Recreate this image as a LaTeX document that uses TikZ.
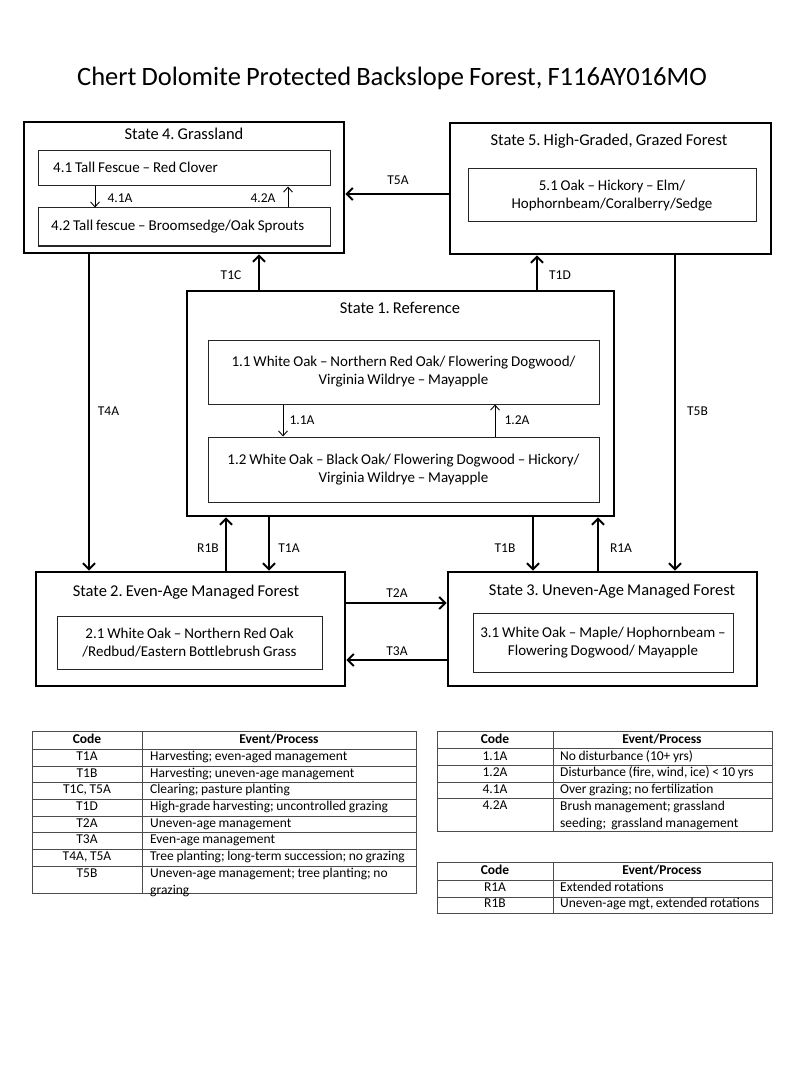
\documentclass[tikz,border=0pt]{standalone}
\usepackage{fontspec}
\setmainfont{Carlito}[WordSpace=0.85]
\usetikzlibrary{arrows.meta}
\begin{document}
\frenchspacing
\begin{tikzpicture}[x=1pt,y=-1pt,
  statebox/.style={draw, line width=2.8pt, inner sep=0pt},
  phasebox/.style={draw, black!85, line width=1pt, inner sep=0pt, text=black, align=center,
    font=\fontsize{15}{18}\selectfont},
  ptext/.style={inner sep=0pt, anchor=west, font=\fontsize{15}{18}\selectfont},
  stitle/.style={inner sep=0pt, font=\fontsize{16.5}{19}\selectfont},
  lbl/.style={inner sep=0pt, font=\fontsize{13.5}{16}\selectfont},
  conn/.style={line width=2.2pt, -{Straight Barb[length=6pt, width=12pt, line width=2pt]}},
  thinconn/.style={line width=0.9pt, -{Straight Barb[length=5pt, width=9pt, line width=0.9pt]}},
  tline/.style={draw, black!70, line width=0.9pt},
  tcell/.style={inner sep=0pt, text height=9.5pt, text depth=3pt, font=\fontsize{13.5}{17}\selectfont},
  tmulti/.style={inner sep=0pt, align=left, font=\fontsize{13.5}{17}\selectfont},
  thead/.style={inner sep=0pt, text height=9.5pt, text depth=3pt, font=\fontsize{13.5}{17}\selectfont\bfseries},
]
\useasboundingbox (0,0) rectangle (800,1067);
\fill[white] (0,0) rectangle (800,1067);

% title
\node[inner sep=0pt, font=\fontsize{26.5}{30}\selectfont] (title) at (392,78) {Chert Dolomite Protected Backslope Forest, F116AY016MO};

% states
\node[statebox, minimum width=320, minimum height=131] (s4) at (184,187.5) {};
\node[statebox, minimum width=321, minimum height=131] (s5) at (610.5,188.5) {};
\node[statebox, minimum width=427, minimum height=225] (s1) at (400.5,403.5) {};
\node[statebox, minimum width=309, minimum height=114] (s2) at (190.5,629) {};
\node[statebox, minimum width=309, minimum height=114] (s3) at (602.5,629) {};

\node[stitle] (s4t) at (184,134) {State 4. Grassland};
\node[stitle] (s5t) at (609,141) {State 5. High-Graded, Grazed Forest};
\node[stitle] (s1t) at (400,308) {State 1. Reference};
\node[stitle] (s2t) at (186,592) {State 2. Even-Age Managed Forest};
\node[stitle] (s3t) at (612,591) {State 3. Uneven-Age Managed Forest};

% phases
\node[phasebox, minimum width=292, minimum height=35] (p41) at (184,168.5) {};
\node[ptext] (p41t) at (53,167.5) {4.1 Tall Fescue – Red Clover};
\node[phasebox, minimum width=292, minimum height=38] (p42) at (184,227) {};
\node[ptext] (p42t) at (51,227) {4.2 Tall fescue – Broomsedge/Oak Sprouts};
\node[phasebox, minimum width=288, minimum height=53] (p51) at (612,195.5) {5.1 Oak – Hickory – Elm/\\Hophornbeam/Coralberry/Sedge};
\node[phasebox, minimum width=391, minimum height=64] (p11) at (403.5,372) {1.1 White Oak – Northern Red Oak/ Flowering Dogwood/\\Virginia Wildrye – Mayapple};
\node[phasebox, minimum width=391, minimum height=65] (p12) at (403.5,469.5) {1.2 White Oak – Black Oak/ Flowering Dogwood – Hickory/\\Virginia Wildrye – Mayapple};
\node[phasebox, minimum width=265, minimum height=53] (p21) at (189.5,642.5) {2.1 White Oak – Northern Red Oak\\/Redbud/Eastern Bottlebrush Grass};
\node[phasebox, minimum width=260, minimum height=59] (p31) at (603,642.5) {3.1 White Oak – Maple/ Hophornbeam –\\Flowering Dogwood/ Mayapple};

% transitions between states
\draw[conn] (s5.west |- 0,194) -- (s4.east |- 0,194);
\draw[conn] (s1.north -| 259,0) -- (s4.south -| 259,0);
\draw[conn] (s1.north -| 537,0) -- (s5.south -| 537,0);
\draw[conn] (s4.south -| 89,0) -- (s2.north -| 89,0);
\draw[conn] (s5.south -| 675,0) -- (s3.north -| 675,0);
\draw[conn] (s2.north -| 226,0) -- (s1.south -| 226,0);
\draw[conn] (s1.south -| 269,0) -- (s2.north -| 269,0);
\draw[conn] (s1.south -| 533,0) -- (s3.north -| 533,0);
\draw[conn] (s3.north -| 598,0) -- (s1.south -| 598,0);
\draw[conn] (s2.east |- 0,603) -- (s3.west |- 0,603);
\draw[conn] (s3.west |- 0,660) -- (s2.east |- 0,660);

\node[lbl] (lt5a) at (398,180) {T5A};
\node[lbl] (lt1c) at (231,275) {T1C};
\node[lbl] (lt1d) at (560,275) {T1D};
\node[lbl] (lt4a) at (108.5,411) {T4A};
\node[lbl] (lt5b) at (697.5,411) {T5B};
\node[lbl] (lr1b) at (208,548) {R1B};
\node[lbl] (lt1a) at (289,548) {T1A};
\node[lbl] (lt1b) at (505,548) {T1B};
\node[lbl] (lr1a) at (621,548) {R1A};
\node[lbl] (lt2a) at (397,593) {T2A};
\node[lbl] (lt3a) at (397,651) {T3A};

% community pathways
\draw[thinconn] (p41.south -| 95,0) -- (p42.north -| 95,0);
\draw[thinconn] (p42.north -| 288,0) -- (p41.south -| 288,0);
\draw[thinconn] (p11.south -| 283,0) -- (p12.north -| 283,0);
\draw[thinconn] (p12.north -| 495,0) -- (p11.south -| 495,0);
\node[lbl] (l41a) at (120,198) {4.1A};
\node[lbl] (l42a) at (263,198) {4.2A};
\node[lbl] (l11a) at (302,420) {1.1A};
\node[lbl] (l12a) at (517,420) {1.2A};

% table 1
\draw[tline] (32,731) rectangle (416,893);
\draw[tline] (142,731) -- (142,893);
\foreach \yy in {749,766,782,799,816,832,849,866} \draw[tline] (32,\yy) -- (416,\yy);
\node[thead] (t1h1) at (87,740) {Code};
\node[thead] (t1h2) at (279,740) {Event/Process};
\node[tcell] (t1c1) at (87,757.5) {T1A};
\node[tcell] (t1c2) at (87,774) {T1B};
\node[tcell] (t1c3) at (87,790.5) {T1C, T5A};
\node[tcell] (t1c4) at (87,807.5) {T1D};
\node[tcell] (t1c5) at (87,824) {T2A};
\node[tcell] (t1c6) at (87,840.5) {T3A};
\node[tcell] (t1c7) at (87,857.5) {T4A, T5A};
\node[tcell] (t1c8) at (87,874.5) {T5B};
\node[tcell, anchor=west] (t1e1) at (150,757.5) {Harvesting; even-aged management};
\node[tcell, anchor=west] (t1e2) at (150,774) {Harvesting; uneven-age management};
\node[tcell, anchor=west] (t1e3) at (150,790.5) {Clearing; pasture planting};
\node[tcell, anchor=west] (t1e4) at (150,807.5) {High-grade harvesting; uncontrolled grazing};
\node[tcell, anchor=west] (t1e5) at (150,824) {Uneven-age management};
\node[tcell, anchor=west] (t1e6) at (150,840.5) {Even-age management};
\node[tcell, anchor=west] (t1e7) at (150,857.5) {Tree planting; long-term succession; no grazing};
\node[tmulti, anchor=north west] (t1e8) at (150,868) {Uneven-age management; tree planting; no\\grazing};

% table 2
\draw[tline] (437,731) rectangle (772,831);
\draw[tline] (553,731) -- (553,831);
\foreach \yy in {748,765,782,798} \draw[tline] (437,\yy) -- (772,\yy);
\node[thead] (t2h1) at (495,740) {Code};
\node[thead] (t2h2) at (662,740) {Event/Process};
\node[tcell] (t2c1) at (495,757) {1.1A};
\node[tcell] (t2c2) at (495,773.5) {1.2A};
\node[tcell] (t2c3) at (495,790) {4.1A};
\node[tcell] (t2c4) at (495,806) {4.2A};
\node[tcell, anchor=west] (t2e1) at (560,757) {No disturbance (10+ yrs)};
\node[tcell, anchor=west] (t2e2) at (560,773.5) {Disturbance (fire, wind, ice) < 10 yrs};
\node[tcell, anchor=west] (t2e3) at (560,790) {Over grazing; no fertilization};
\node[tmulti, anchor=north west] (t2e4) at (560,800.5) {Brush management; grassland\\seeding;\ \ grassland management};

% table 3
\draw[tline] (437,862) rectangle (772,913);
\draw[tline] (553,862) -- (553,913);
\foreach \yy in {880,897} \draw[tline] (437,\yy) -- (772,\yy);
\node[thead] (t3h1) at (495,871) {Code};
\node[thead] (t3h2) at (662,871) {Event/Process};
\node[tcell] (t3c1) at (495,888) {R1A};
\node[tcell] (t3c2) at (495,904.5) {R1B};
\node[tcell, anchor=west] (t3e1) at (560,888) {Extended rotations};
\node[tcell, anchor=west] (t3e2) at (560,904.5) {Uneven-age mgt, extended rotations};
\end{tikzpicture}
\end{document}
